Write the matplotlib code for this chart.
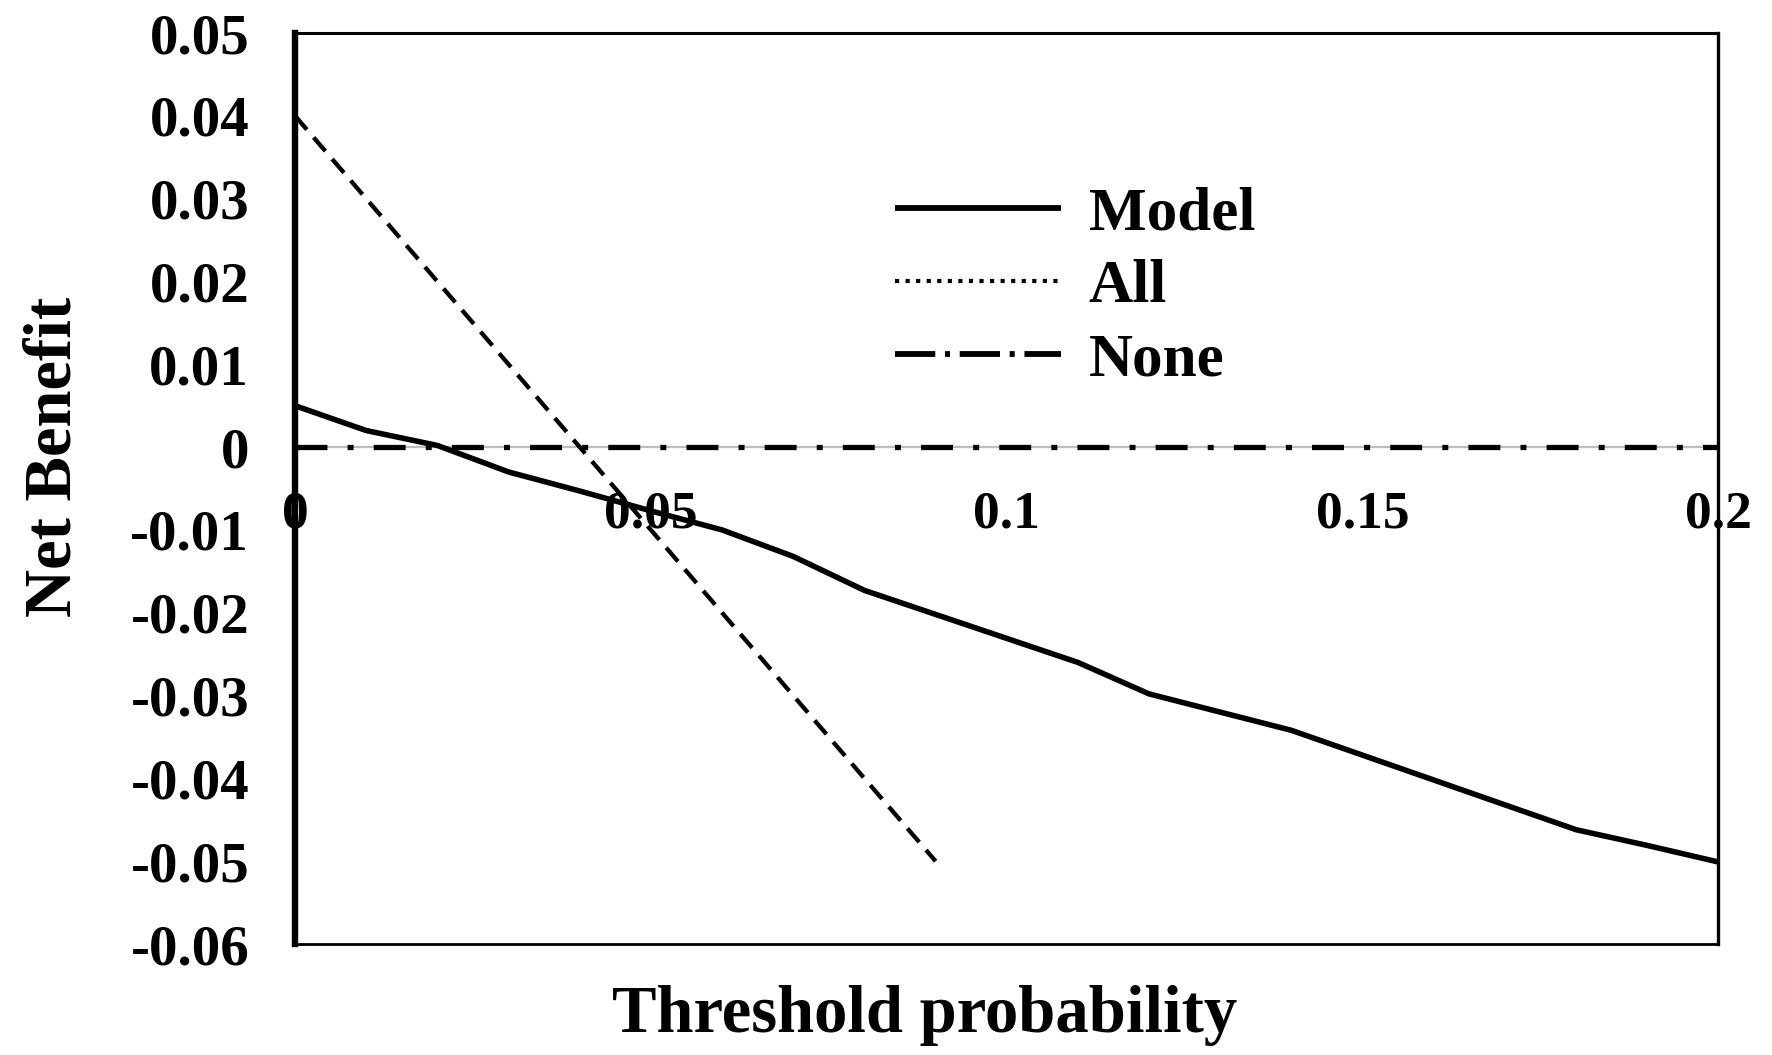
import matplotlib
matplotlib.use("Agg")
import matplotlib.pyplot as plt
from matplotlib.lines import Line2D

plt.rcParams['font.family'] = ['Liberation Serif', 'DejaVu Serif']
plt.rcParams['font.weight'] = 'bold'
plt.rcParams['lines.scale_dashes'] = False

# ---- data ----
threshold = [0.00, 0.01, 0.02, 0.03, 0.04, 0.05, 0.06, 0.07, 0.08, 0.09, 0.10,
             0.11, 0.12, 0.13, 0.14, 0.15, 0.16, 0.17, 0.18, 0.19, 0.20]
nb_model = [0.0050, 0.0020, 0.0002, -0.0030, -0.0053, -0.0077, -0.0100, -0.0132,
            -0.0173, -0.0202, -0.0231, -0.0260, -0.0298, -0.0320, -0.0342,
            -0.0372, -0.0402, -0.0432, -0.0462, -0.0481, -0.0501]
threshold_all = [0.00, 0.01, 0.02, 0.03, 0.04, 0.05, 0.06, 0.07, 0.08, 0.09]
nb_all = [0.040, 0.030, 0.020, 0.010, 0.000, -0.010, -0.020, -0.030, -0.040, -0.050]
threshold_none = [0.00, 0.20]
nb_none = [0.0, 0.0]

xticks = [0, 0.05, 0.1, 0.15, 0.2]
xtick_labels = ["0", "0.05", "0.1", "0.15", "0.2"]
yticks = [0.05, 0.04, 0.03, 0.02, 0.01, 0, -0.01, -0.02, -0.03, -0.04, -0.05, -0.06]
ytick_labels = ["0.05", "0.04", "0.03", "0.02", "0.01", "0", "-0.01", "-0.02",
                "-0.03", "-0.04", "-0.05", "-0.06"]
legend_labels = ["Model", "All", "None"]

# ---- figure ----
fig = plt.figure(figsize=(17.72, 10.55), dpi=100)
ax = fig.add_axes([0.1665, 0.1052, 0.8033, 0.8635])
ax.set_xlim(0, 0.2)
ax.set_ylim(-0.06, 0.05)

# zero axis line (light grey)
ax.axhline(0, color='#bdbdbd', lw=1.6, zorder=1)

ax.plot(threshold_none, nb_none, color='black', lw=3.8,
        dashes=(23, 14.5, 4.3, 14.5), dash_capstyle='butt', zorder=3)
ax.plot(threshold_all, nb_all, color='black', lw=3.1,
        dashes=(13, 7.5), dash_capstyle='butt', zorder=3)
ax.plot(threshold, nb_model, color='black', lw=4.0, solid_capstyle='butt', zorder=4)

# frame
for side, w in [('left', 4.6), ('top', 2.2), ('right', 2.4), ('bottom', 2.0)]:
    ax.spines[side].set_linewidth(w)
    ax.spines[side].set_color('black')

ax.set_yticks(yticks)
ax.set_yticklabels(ytick_labels, fontsize=41, fontweight='bold')
ax.tick_params(axis='y', length=0, pad=33)
ax.set_xticks([])

# x tick labels along the zero line
sec = ax.secondary_xaxis(0, transform=ax.transData)
sec.set_xticks(xticks)
sec.set_xticklabels(xtick_labels, fontsize=38.5, fontweight='bold')
sec.tick_params(axis='x', length=0, pad=31)
sec.spines['bottom'].set_visible(False)

ax.set_xlabel("Threshold probability", fontsize=48, fontweight='bold')
ax.xaxis.set_label_coords(0.4425, -0.045)
ax.xaxis.label.set_va('top')
ax.set_ylabel("Net Benefit", fontsize=48, fontweight='bold')
ax.yaxis.set_label_coords(-0.169, 0.535)
ax.yaxis.label.set_va('center')

handles = [
    Line2D([], [], color='black', lw=4.2, solid_capstyle='butt'),
    Line2D([], [], color='black', lw=3.0, dashes=(3.0, 4.6), dash_capstyle='butt'),
    Line2D([], [], color='black', lw=4.2, dashes=(29, 7, 3.6, 7), dash_capstyle='butt'),
]
leg = ax.legend(handles, legend_labels, loc='upper left',
                bbox_to_anchor=(895 / 1772, 1 - 186 / 1055),
                bbox_transform=fig.transFigure, frameon=False,
                prop={'family': 'Liberation Serif', 'weight': 'bold', 'size': 44},
                handlelength=2.72, handletextpad=0.45, labelspacing=0.28,
                borderpad=0, borderaxespad=0)

fig.savefig("out.png", dpi=100)
